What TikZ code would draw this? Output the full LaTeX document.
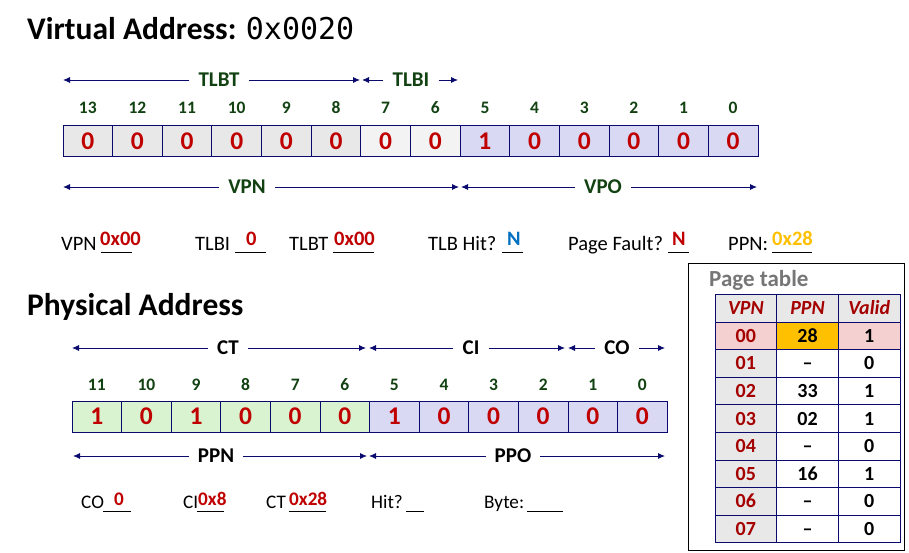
\documentclass[tikz,border=0pt]{standalone}
\usepackage{fontspec}
\setmainfont{Carlito}
\newfontfamily\codefont{DejaVu Sans Mono}
\usetikzlibrary{arrows.meta}
\definecolor{bred}{RGB}{192,0,0}
\definecolor{dgreen}{RGB}{18,66,18}
\definecolor{navyb}{RGB}{10,10,110}
\definecolor{cgray}{RGB}{232,232,232}
\definecolor{clgray}{RGB}{243,243,243}
\definecolor{clav}{RGB}{217,217,243}
\definecolor{cgreen}{RGB}{217,242,208}
\definecolor{cpink}{RGB}{244,208,208}
\definecolor{corange}{RGB}{255,192,0}
\definecolor{cblue}{RGB}{0,112,192}
\definecolor{tred}{RGB}{165,0,0}
\definecolor{ptgray}{RGB}{118,118,118}
\begin{document}
\begin{tikzpicture}[x=1pt,y=-1pt,
  bitcell/.style={draw=navyb, line width=0.9pt, minimum width=49.64pt, minimum height=31pt, inner sep=0pt,
    font=\fontsize{25.5}{25.5}\selectfont\bfseries, text=bred},
  bitnum/.style={font=\fontsize{17.5}{17.5}\selectfont\bfseries, text=dgreen, inner sep=0pt},
  dimlbl/.style={font=\fontsize{21}{21}\selectfont\bfseries, inner xsep=9pt, inner ysep=0pt},
  dimline/.style={draw=navyb, line width=0.9pt, -{Latex[length=7pt,width=6pt]}},
  fieldtxt/.style={anchor=base west, inner sep=0pt, font=\fontsize{20.5}{20.5}\selectfont},
  fieldval/.style={anchor=base west, inner sep=0pt, font=\fontsize{20.5}{20.5}\selectfont\bfseries},
  fieldtxtb/.style={anchor=base west, inner sep=0pt, font=\fontsize{19.2}{19.2}\selectfont},
  fieldvalb/.style={anchor=base west, inner sep=0pt, font=\fontsize{19.2}{19.2}\selectfont\bfseries},
  blank/.style={draw=black, line width=0.9pt},
  tcell/.style={draw=navyb, line width=0.9pt, minimum width=61.7pt, minimum height=27.6pt, inner sep=0pt,
    text height=12.8pt, text depth=0pt, font=\fontsize{20}{20}\selectfont\bfseries},
  thead/.style={tcell, fill=cgray, text=tred, font=\fontsize{20}{20}\selectfont\bfseries\itshape},
  ttitle/.style={font=\fontsize{31.5}{31.5}\selectfont\bfseries, anchor=base west, inner sep=0pt}
]
\useasboundingbox[fill=white] (0,0) rectangle (909,553);

% ---------- Virtual address ----------
\node[ttitle] (vtitle) at (27,39.5) {Virtual Address: {\codefont\mdseries\fontsize{30}{30}\selectfont 0x0020}};

\foreach \b/\v/\f in {13/0/cgray,12/0/cgray,11/0/cgray,10/0/cgray,9/0/cgray,8/0/cgray,7/0/clgray,6/0/clgray,5/1/clav,4/0/clav,3/0/clav,2/0/clav,1/0/clav,0/0/clav}{
  \pgfmathsetmacro\cx{63+49.64*(13-\b)+24.82}
  \node[bitcell, fill=\f] (v\b) at (\cx,141) {\v};
  \node[bitnum] (vn\b) at (\cx,108) {\b};
}

\coordinate (tlbtL) at (63,80);  \coordinate (tlbtR) at (360,80);
\node[dimlbl, text=dgreen] (tlbt) at (219,80) {TLBT};
\draw[dimline] (tlbt.west) -- (tlbtL);
\draw[dimline] (tlbt.east) -- (tlbtR);

\coordinate (tlbiL) at (362,80);  \coordinate (tlbiR) at (458,80);
\node[dimlbl, text=dgreen] (tlbi) at (411,80) {TLBI};
\draw[dimline] (tlbi.west) -- (tlbiL);
\draw[dimline] (tlbi.east) -- (tlbiR);

\coordinate (vpnL) at (63,187);  \coordinate (vpnR) at (459,187);
\node[dimlbl, text=dgreen] (vpn) at (247,187) {VPN};
\draw[dimline] (vpn.west) -- (vpnL);
\draw[dimline] (vpn.east) -- (vpnR);

\coordinate (vpoL) at (461,187);  \coordinate (vpoR) at (757,187);
\node[dimlbl, text=dgreen] (vpo) at (603,187) {VPO};
\draw[dimline] (vpo.west) -- (vpoL);
\draw[dimline] (vpo.east) -- (vpoR);

% fields row 1
\node[fieldtxt] (f1) at (61,250) {VPN};
\node[fieldval, text=bred] (f1v) at (100,245) {0x00};
\draw[blank] (101,252) -- (132,252);
\node[fieldtxt] (f2) at (195,250) {TLBI};
\node[fieldval, text=bred] (f2v) at (246,245) {0};
\draw[blank] (235,252) -- (266,252);
\node[fieldtxt] (f3) at (289,250) {TLBT};
\node[fieldval, text=bred] (f3v) at (334,245) {0x00};
\draw[blank] (333,252) -- (374,252);
\node[fieldtxt] (f4) at (428,250) {TLB Hit?};
\node[fieldval, text=cblue] (f4v) at (507,245) {N};
\draw[blank] (502,252) -- (523,252);
\node[fieldtxt] (f5) at (568,250) {Page Fault?};
\node[fieldval, text=bred] (f5v) at (672,245) {N};
\draw[blank] (668,252) -- (689,252);
\node[fieldtxt] (f6) at (728,250) {PPN:};
\node[fieldval, text=corange] (f6v) at (772,245) {0x28};
\draw[blank] (772,252) -- (812,252);

% ---------- Physical address ----------
\node[ttitle] (ptitle) at (27,315) {Physical Address};

\foreach \b/\v/\f in {11/1/cgreen,10/0/cgreen,9/1/cgreen,8/0/cgreen,7/0/cgreen,6/0/cgreen,5/1/clav,4/0/clav,3/0/clav,2/0/clav,1/0/clav,0/0/clav}{
  \pgfmathsetmacro\cx{72+49.6*(11-\b)+24.8}
  \node[bitcell, fill=\f, minimum width=49.6pt] (p\b) at (\cx,416.5) {\v};
  \node[bitnum] (pn\b) at (\cx,385) {\b};
}

\coordinate (ctL) at (72,348);  \coordinate (ctR) at (366,348);
\node[dimlbl] (ct) at (228,348) {CT};
\draw[dimline] (ct.west) -- (ctL);
\draw[dimline] (ct.east) -- (ctR);

\coordinate (ciL) at (369,348);  \coordinate (ciR) at (565,348);
\node[dimlbl] (ci) at (471,348) {CI};
\draw[dimline] (ci.west) -- (ciL);
\draw[dimline] (ci.east) -- (ciR);

\coordinate (coL) at (568,348);  \coordinate (coR) at (665,348);
\node[dimlbl] (co) at (617,348) {CO};
\draw[dimline] (co.west) -- (coL);
\draw[dimline] (co.east) -- (coR);

\coordinate (ppnL) at (73,456);  \coordinate (ppnR) at (367,456);
\node[dimlbl] (ppn) at (216,456) {PPN};
\draw[dimline] (ppn.west) -- (ppnL);
\draw[dimline] (ppn.east) -- (ppnR);

\coordinate (ppoL) at (369,456);  \coordinate (ppoR) at (665,456);
\node[dimlbl] (ppo) at (513,456) {PPO};
\draw[dimline] (ppo.west) -- (ppoL);
\draw[dimline] (ppo.east) -- (ppoR);

% fields row 2
\node[fieldtxtb] (g1) at (81,508) {CO};
\node[fieldvalb, text=bred] (g1v) at (114,505) {0};
\draw[blank] (103,511) -- (131,511);
\node[fieldtxtb] (g2) at (183,508) {CI};
\node[fieldvalb, text=bred] (g2v) at (198,505) {0x8};
\draw[blank] (197,511) -- (224,511);
\node[fieldtxtb] (g3) at (266,508) {CT};
\node[fieldvalb, text=bred] (g3v) at (289,505) {0x28};
\draw[blank] (289,511) -- (326,511);
\node[fieldtxtb] (g4) at (371,508) {Hit?};
\draw[blank] (406,511) -- (424,511);
\node[fieldtxtb] (g5) at (484,508) {Byte:};
\draw[blank] (527,511) -- (563,511);

% ---------- Page table ----------
\draw[black, line width=1pt] (688,263) rectangle (904,550);
\node[anchor=base west, inner sep=0pt, text=ptgray, font=\fontsize{23}{23}\selectfont\bfseries] (pttitle) at (709,286) {Page table};

\node[thead] (th1) at (745.85,308.3) {VPN};
\node[thead] (th2) at (807.55,308.3) {PPN};
\node[thead] (th3) at (869.25,308.3) {Valid};

\foreach \r/\a/\p/\q in {1/00/28/1,2/01/\textendash/0,3/02/33/1,4/03/02/1,5/04/\textendash/0,6/05/16/1,7/06/\textendash/0,8/07/\textendash/0}{
  \pgfmathsetmacro\cy{294.5+27.6*\r+13.8}
  \ifnum\r=1
    \node[tcell, fill=cpink, text=tred] (r\r a) at (745.85,\cy) {\a};
    \node[tcell, fill=corange] (r\r b) at (807.55,\cy) {\p};
    \node[tcell, fill=cpink] (r\r c) at (869.25,\cy) {\q};
  \else
    \node[tcell, fill=cgray, text=tred] (r\r a) at (745.85,\cy) {\a};
    \node[tcell, fill=white] (r\r b) at (807.55,\cy) {\p};
    \node[tcell, fill=white] (r\r c) at (869.25,\cy) {\q};
  \fi
}
\end{tikzpicture}
\end{document}
